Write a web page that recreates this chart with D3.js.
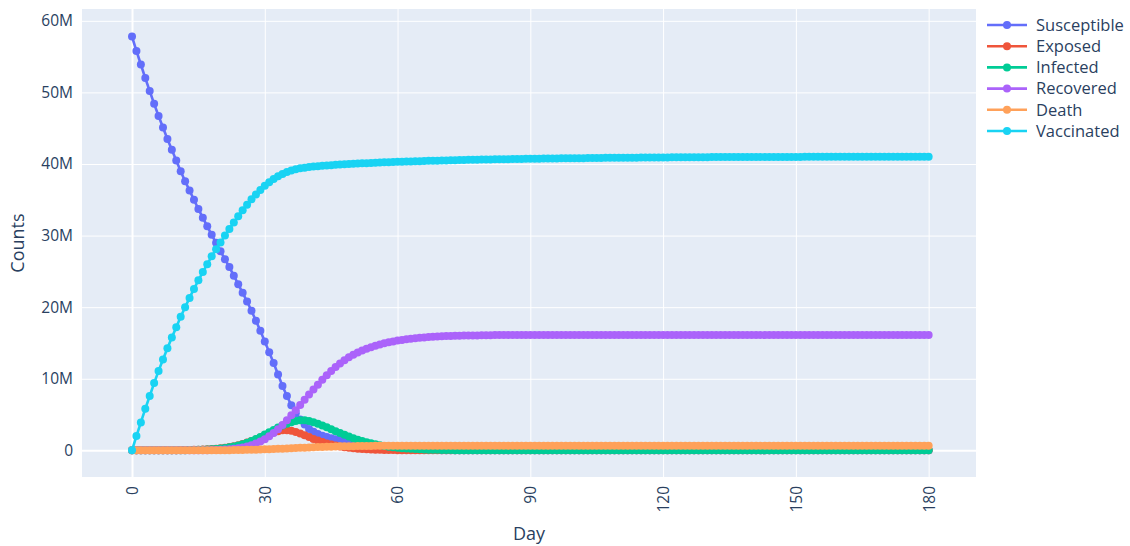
<!DOCTYPE html>
<html>
<head>
<meta charset="utf-8">
<script src="https://cdn.jsdelivr.net/npm/d3@7"></script>
<style>
  body { margin: 0; background: #fff; }
  text { font-family: "Open Sans", sans-serif; fill: #2a3f5f; }
</style>
</head>
<body>
<div id="chart"></div>
<script>
// Values in millions, one per day (day 0 .. 180)
const susceptible = [
  57.8, 55.8, 53.9, 52.0, 50.2, 48.4, 46.7, 45.1, 43.5, 42.0,
  40.5, 39.0, 37.6, 36.3, 35.0, 33.7, 32.5, 31.3, 30.1, 29.0,
  27.8, 26.7, 25.6, 24.4, 23.2, 22.0, 20.8, 19.5, 18.1, 16.7,
  15.2, 13.7, 12.2, 10.6, 9.0, 7.6, 6.3, 5.2, 4.3, 3.6,
  3.0, 2.6, 2.3, 2.05, 1.85, 1.7, 1.55, 1.4, 1.25, 1.1,
  0.97, 0.85, 0.74, 0.64, 0.55, 0.47, 0.4, 0.34, 0.29, 0.24,
  0.2, 0.17, 0.14, 0.12, 0.1, 0.08, 0.07, 0.06, 0.05, 0.04,
  0.03, 0.03, 0.02, 0.02, 0.01, 0.01, 0.01, 0, 0, 0,
  0, 0, 0, 0, 0, 0, 0, 0, 0, 0,
  0, 0, 0, 0, 0, 0, 0, 0, 0, 0,
  0, 0, 0, 0, 0, 0, 0, 0, 0, 0,
  0, 0, 0, 0, 0, 0, 0, 0, 0, 0,
  0, 0, 0, 0, 0, 0, 0, 0, 0, 0,
  0, 0, 0, 0, 0, 0, 0, 0, 0, 0,
  0, 0, 0, 0, 0, 0, 0, 0, 0, 0,
  0, 0, 0, 0, 0, 0, 0, 0, 0, 0,
  0, 0, 0, 0, 0, 0, 0, 0, 0, 0,
  0, 0, 0, 0, 0, 0, 0, 0, 0, 0,
  0
];
const exposed = [
  0, 0.01, 0.01, 0.01, 0.01, 0.01, 0.02, 0.02, 0.02, 0.03,
  0.03, 0.04, 0.05, 0.06, 0.07, 0.09, 0.11, 0.14, 0.18, 0.23,
  0.29, 0.37, 0.47, 0.59, 0.73, 0.9, 1.09, 1.3, 1.53, 1.78,
  2.03, 2.27, 2.5, 2.68, 2.8, 2.82, 2.74, 2.57, 2.35, 2.1,
  1.85, 1.6, 1.37, 1.16, 0.97, 0.81, 0.67, 0.55, 0.45, 0.37,
  0.3, 0.24, 0.19, 0.15, 0.12, 0.1, 0.08, 0.06, 0.05, 0.04,
  0.03, 0.03, 0.02, 0.02, 0.01, 0.01, 0.01, 0, 0, 0,
  0, 0, 0, 0, 0, 0, 0, 0, 0, 0,
  0, 0, 0, 0, 0, 0, 0, 0, 0, 0,
  0, 0, 0, 0, 0, 0, 0, 0, 0, 0,
  0, 0, 0, 0, 0, 0, 0, 0, 0, 0,
  0, 0, 0, 0, 0, 0, 0, 0, 0, 0,
  0, 0, 0, 0, 0, 0, 0, 0, 0, 0,
  0, 0, 0, 0, 0, 0, 0, 0, 0, 0,
  0, 0, 0, 0, 0, 0, 0, 0, 0, 0,
  0, 0, 0, 0, 0, 0, 0, 0, 0, 0,
  0, 0, 0, 0, 0, 0, 0, 0, 0, 0,
  0, 0, 0, 0, 0, 0, 0, 0, 0, 0,
  0
];
const infected = [
  0, 0.01, 0.01, 0.01, 0.01, 0.01, 0.01, 0.01, 0.02, 0.02,
  0.02, 0.03, 0.03, 0.04, 0.05, 0.07, 0.09, 0.12, 0.15, 0.2,
  0.25, 0.33, 0.43, 0.55, 0.69, 0.86, 1.06, 1.3, 1.58, 1.88,
  2.2, 2.53, 2.86, 3.18, 3.47, 3.72, 3.93, 4.1, 4.2, 4.2,
  4.1, 3.93, 3.72, 3.48, 3.22, 2.95, 2.68, 2.42, 2.17, 1.93,
  1.71, 1.5, 1.31, 1.14, 0.98, 0.84, 0.72, 0.61, 0.52, 0.44,
  0.37, 0.31, 0.26, 0.22, 0.18, 0.15, 0.12, 0.1, 0.08, 0.07,
  0.06, 0.05, 0.04, 0.03, 0.03, 0.02, 0.02, 0.01, 0.01, 0.01,
  0, 0, 0, 0, 0, 0, 0, 0, 0, 0,
  0, 0, 0, 0, 0, 0, 0, 0, 0, 0,
  0, 0, 0, 0, 0, 0, 0, 0, 0, 0,
  0, 0, 0, 0, 0, 0, 0, 0, 0, 0,
  0, 0, 0, 0, 0, 0, 0, 0, 0, 0,
  0, 0, 0, 0, 0, 0, 0, 0, 0, 0,
  0, 0, 0, 0, 0, 0, 0, 0, 0, 0,
  0, 0, 0, 0, 0, 0, 0, 0, 0, 0,
  0, 0, 0, 0, 0, 0, 0, 0, 0, 0,
  0, 0, 0, 0, 0, 0, 0, 0, 0, 0,
  0
];
const recovered = [
  0, 0, 0, 0, 0, 0, 0, 0, 0, 0,
  0, 0, 0, 0.01, 0.01, 0.02, 0.02, 0.03, 0.04, 0.06,
  0.08, 0.11, 0.15, 0.21, 0.29, 0.4, 0.54, 0.72, 0.95, 1.23,
  1.57, 1.97, 2.43, 2.96, 3.55, 4.2, 4.9, 5.62, 6.35, 7.08,
  7.8, 8.5, 9.17, 9.85, 10.5, 11.1, 11.65, 12.15, 12.6, 13.0,
  13.35, 13.67, 13.95, 14.2, 14.42, 14.62, 14.8, 14.96, 15.1, 15.22,
  15.33, 15.43, 15.52, 15.6, 15.67, 15.73, 15.78, 15.83, 15.87, 15.9,
  15.93, 15.96, 15.98, 16.0, 16.02, 16.03, 16.04, 16.05, 16.06, 16.07,
  16.08, 16.09, 16.1, 16.1, 16.1, 16.1, 16.1, 16.1, 16.1, 16.1,
  16.1, 16.1, 16.1, 16.1, 16.1, 16.1, 16.1, 16.1, 16.1, 16.1,
  16.1, 16.1, 16.1, 16.1, 16.1, 16.1, 16.1, 16.1, 16.1, 16.1,
  16.1, 16.1, 16.1, 16.1, 16.1, 16.1, 16.1, 16.1, 16.1, 16.1,
  16.1, 16.1, 16.1, 16.1, 16.1, 16.1, 16.1, 16.1, 16.1, 16.1,
  16.1, 16.1, 16.1, 16.1, 16.1, 16.1, 16.1, 16.1, 16.1, 16.1,
  16.1, 16.1, 16.1, 16.1, 16.1, 16.1, 16.1, 16.1, 16.1, 16.1,
  16.1, 16.1, 16.1, 16.1, 16.1, 16.1, 16.1, 16.1, 16.1, 16.1,
  16.1, 16.1, 16.1, 16.1, 16.1, 16.1, 16.1, 16.1, 16.1, 16.1,
  16.1, 16.1, 16.1, 16.1, 16.1, 16.1, 16.1, 16.1, 16.1, 16.1,
  16.1
];
const death = [
  0, 0, 0, 0, 0, 0, 0, 0, 0, 0,
  0, 0, 0, 0, 0, 0, 0.01, 0.01, 0.01, 0.01,
  0.02, 0.02, 0.03, 0.04, 0.05, 0.06, 0.07, 0.09, 0.1, 0.12,
  0.14, 0.16, 0.18, 0.21, 0.23, 0.26, 0.29, 0.32, 0.35, 0.38,
  0.41, 0.43, 0.46, 0.48, 0.5, 0.52, 0.54, 0.56, 0.57, 0.58,
  0.59, 0.6, 0.61, 0.62, 0.62, 0.63, 0.63, 0.64, 0.64, 0.64,
  0.65, 0.65, 0.65, 0.65, 0.65, 0.65, 0.65, 0.65, 0.65, 0.65,
  0.65, 0.65, 0.65, 0.65, 0.65, 0.65, 0.65, 0.65, 0.65, 0.65,
  0.65, 0.65, 0.65, 0.65, 0.65, 0.65, 0.65, 0.65, 0.65, 0.65,
  0.65, 0.65, 0.65, 0.65, 0.65, 0.65, 0.65, 0.65, 0.65, 0.65,
  0.65, 0.65, 0.65, 0.65, 0.65, 0.65, 0.65, 0.65, 0.65, 0.65,
  0.65, 0.65, 0.65, 0.65, 0.65, 0.65, 0.65, 0.65, 0.65, 0.65,
  0.65, 0.65, 0.65, 0.65, 0.65, 0.65, 0.65, 0.65, 0.65, 0.65,
  0.65, 0.65, 0.65, 0.65, 0.65, 0.65, 0.65, 0.65, 0.65, 0.65,
  0.65, 0.65, 0.65, 0.65, 0.65, 0.65, 0.65, 0.65, 0.65, 0.65,
  0.65, 0.65, 0.65, 0.65, 0.65, 0.65, 0.65, 0.65, 0.65, 0.65,
  0.65, 0.65, 0.65, 0.65, 0.65, 0.65, 0.65, 0.65, 0.65, 0.65,
  0.65, 0.65, 0.65, 0.65, 0.65, 0.65, 0.65, 0.65, 0.65, 0.65,
  0.65
];
const vaccinated = [
  0, 2.0, 3.9, 5.8, 7.6, 9.4, 11.1, 12.7, 14.25, 15.75,
  17.2, 18.65, 20.0, 21.3, 22.55, 23.75, 24.9, 26.0, 27.1, 28.1,
  29.05, 30.0, 30.93, 31.83, 32.7, 33.53, 34.32, 35.06, 35.75, 36.38,
  36.95, 37.45, 37.9, 38.28, 38.6, 38.87, 39.09, 39.26, 39.39, 39.49,
  39.57, 39.64, 39.7, 39.75, 39.8, 39.84, 39.88, 39.92, 39.96, 40.0,
  40.03, 40.06, 40.09, 40.12, 40.15, 40.18, 40.2, 40.23, 40.25, 40.28,
  40.3, 40.32, 40.34, 40.36, 40.38, 40.4, 40.42, 40.44, 40.45, 40.47,
  40.49, 40.5, 40.52, 40.53, 40.55, 40.56, 40.58, 40.59, 40.6, 40.62,
  40.63, 40.64, 40.65, 40.66, 40.67, 40.68, 40.69, 40.7, 40.71, 40.72,
  40.73, 40.74, 40.75, 40.76, 40.76, 40.77, 40.78, 40.79, 40.8, 40.8,
  40.81, 40.82, 40.82, 40.83, 40.84, 40.84, 40.85, 40.86, 40.86, 40.87,
  40.87, 40.88, 40.88, 40.89, 40.89, 40.9, 40.9, 40.91, 40.91, 40.92,
  40.92, 40.92, 40.93, 40.93, 40.93, 40.94, 40.94, 40.94, 40.95, 40.95,
  40.95, 40.96, 40.96, 40.96, 40.96, 40.97, 40.97, 40.97, 40.97, 40.97,
  40.98, 40.98, 40.98, 40.98, 40.98, 40.99, 40.99, 40.99, 40.99, 40.99,
  40.99, 40.99, 41.0, 41.0, 41.0, 41.0, 41.0, 41.0, 41.0, 41.0,
  41.0, 41.0, 41.0, 41.0, 41.0, 41.0, 41.0, 41.0, 41.0, 41.0,
  41.0, 41.0, 41.0, 41.0, 41.0, 41.0, 41.0, 41.0, 41.0, 41.0,
  41.0
];

const seriesNames = ["Susceptible", "Exposed", "Infected", "Recovered", "Death", "Vaccinated"];
const seriesValues = [susceptible, exposed, infected, recovered, death, vaccinated];
const colors = ["#636efa", "#EF553B", "#00cc96", "#ab63fa", "#FFA15A", "#19d3f3"];
const xTicks = [0, 30, 60, 90, 120, 150, 180];
const yTicks = [0, 10, 20, 30, 40, 50, 60];

const width = 1130;
const height = 546;
const plot = { left: 82, right: 976, top: 9, bottom: 477 };

const svg = d3.select("#chart")
    .append("svg")
    .attr("width", width)
    .attr("height", height);

// Scales (y in millions)
const x = d3.scaleLinear()
    .domain([-11.3, 190.7])
    .range([plot.left, plot.right]);

const y = d3.scaleLinear()
    .domain([-3.72, 61.65])
    .range([plot.bottom, plot.top]);

// Plot background
svg.append("rect")
    .attr("x", plot.left)
    .attr("y", plot.top)
    .attr("width", plot.right - plot.left)
    .attr("height", plot.bottom - plot.top)
    .attr("fill", "#e5ecf6");

// Axes with gridlines
const yAxis = svg.append("g")
    .attr("transform", `translate(${plot.left},0)`)
    .call(d3.axisLeft(y)
        .tickValues(yTicks)
        .tickSize(-(plot.right - plot.left))
        .tickPadding(9)
        .tickFormat(d => d === 0 ? "0" : d + "M"));

const xAxis = svg.append("g")
    .attr("transform", `translate(0,${plot.bottom})`)
    .call(d3.axisBottom(x)
        .tickValues(xTicks)
        .tickSize(-(plot.bottom - plot.top)));

[xAxis, yAxis].forEach(ax => {
    ax.select(".domain").remove();
    ax.selectAll("line")
        .attr("stroke", "#fff")
        .attr("stroke-width", d => d === 0 ? 2 : 1);
    ax.selectAll("text")
        .style("font-family", "'Open Sans', sans-serif")
        .style("font-size", "15.5px")
        .attr("fill", "#2a3f5f");
});

xAxis.selectAll("text")
    .attr("transform", "rotate(-90)")
    .attr("x", -9)
    .attr("y", 0)
    .attr("dy", "0.35em")
    .style("text-anchor", "end");

// Axis titles
svg.append("text")
    .attr("x", (plot.left + plot.right) / 2)
    .attr("y", 540)
    .attr("text-anchor", "middle")
    .style("font-size", "18px")
    .text("Day");

svg.append("text")
    .attr("transform", `translate(24,${(plot.top + plot.bottom) / 2}) rotate(-90)`)
    .attr("text-anchor", "middle")
    .style("font-size", "18px")
    .text("Counts");

// Series: line + markers, drawn in legend order
const line = d3.line()
    .x((d, i) => x(i))
    .y(d => y(d));

const traces = svg.append("g");
seriesValues.forEach((vals, k) => {
    const g = traces.append("g");
    g.append("path")
        .datum(vals)
        .attr("fill", "none")
        .attr("stroke", colors[k])
        .attr("stroke-width", 2.6)
        .attr("d", line);
    g.selectAll("circle")
        .data(vals)
        .join("circle")
        .attr("cx", (d, i) => x(i))
        .attr("cy", d => y(d))
        .attr("r", 4)
        .attr("fill", colors[k]);
});

// Legend
const legend = svg.append("g").attr("transform", "translate(987,25)");
seriesNames.forEach((name, k) => {
    const row = legend.append("g").attr("transform", `translate(0,${k * 21.2})`);
    row.append("line")
        .attr("x1", 0).attr("x2", 40)
        .attr("stroke", colors[k])
        .attr("stroke-width", 2.6);
    row.append("circle")
        .attr("cx", 20)
        .attr("r", 4)
        .attr("fill", colors[k]);
    row.append("text")
        .attr("x", 49)
        .attr("dy", "0.35em")
        .style("font-size", "16.5px")
        .text(name);
});
</script>
</body>
</html>
